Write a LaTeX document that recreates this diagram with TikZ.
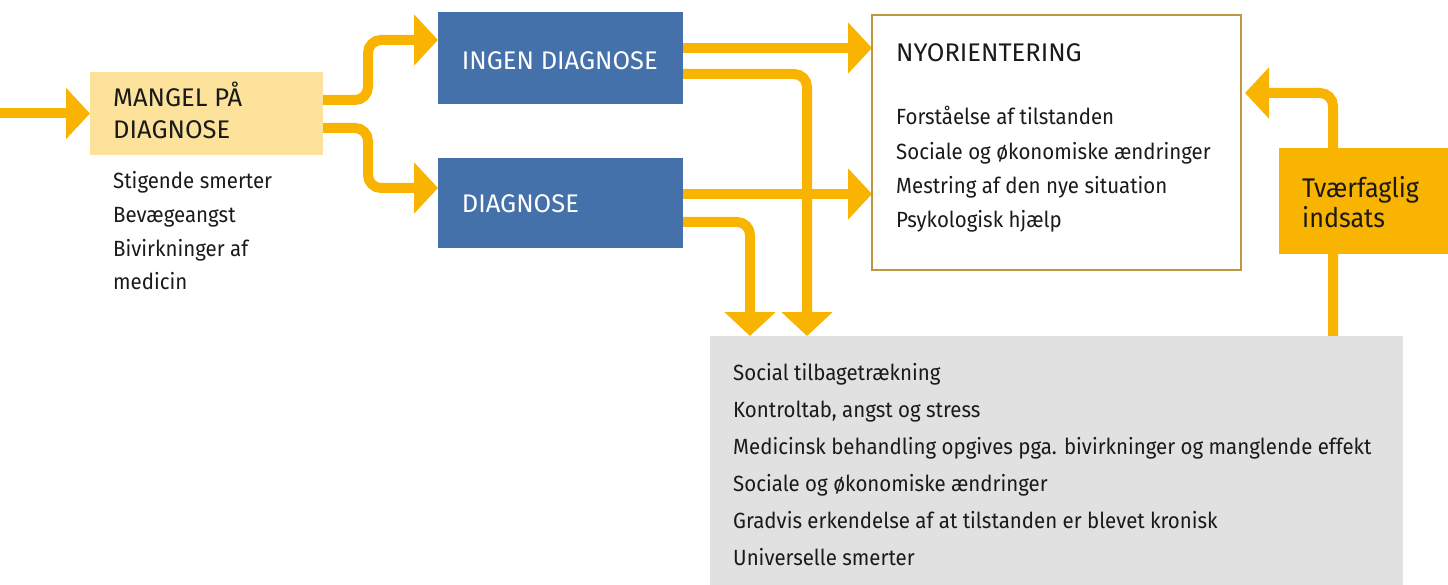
\documentclass[tikz,border=0pt]{standalone}
\usepackage{fontspec}
\setmainfont{Fira Sans}
\newfontfamily\bodyfont{Fira Sans}[FakeStretch=0.93]
\usetikzlibrary{arrows.meta,calc,backgrounds}
\definecolor{arrowY}{HTML}{F8B400}
\definecolor{boxBlue}{HTML}{4471AA}
\definecolor{ltYellow}{HTML}{FCE29A}
\definecolor{boxGray}{HTML}{E1E1E1}
\definecolor{frameGold}{HTML}{BE9644}
\definecolor{txt}{HTML}{1A1A1A}
\begin{document}
\begin{tikzpicture}[x=1pt,y=-1pt,
  flow/.style={draw=arrowY,line width=10pt,rounded corners=13pt,-{Triangle[width=50pt,length=24pt]}},
  panel/.style={anchor=north west,inner sep=0pt,outer sep=0pt,draw=none},
  head/.style={anchor=base west,inner sep=0pt,font=\fontsize{25.5}{30}\selectfont,text=txt},
  body/.style={anchor=base west,inner sep=0pt,font=\bodyfont\fontsize{22}{26}\selectfont,text=txt},
  small/.style={anchor=base west,inner sep=0pt,font=\bodyfont\fontsize{22}{26}\selectfont,text=txt},
  big/.style={anchor=base west,inner sep=0pt,font=\bodyfont\fontsize{27}{30}\selectfont,text=txt}]
\useasboundingbox (0,0) rectangle (1448,585);
% boxes
\node[panel,fill=ltYellow,minimum width=233pt,minimum height=83pt] (mangel) at (90,72) {};
\node[panel,fill=boxBlue,minimum width=245pt,minimum height=92pt] (ingen) at (438,12) {};
\node[panel,fill=boxBlue,minimum width=245pt,minimum height=90pt] (diag) at (438,158) {};
\node[panel,draw=frameGold,line width=1.2pt,minimum width=369pt,minimum height=255pt] (nyo) at (872,15) {};
\node[panel,fill=boxGray,minimum width=693pt,minimum height=249pt] (gray) at (710,336) {};
\node[panel,fill=arrowY,minimum width=169pt,minimum height=106pt] (tvaer) at (1279,148) {};
% texts
\node[head] (mangelA) at (113,106.7) {MANGEL PÅ};
\node[head] (mangelB) at (113,138.3) {DIAGNOSE};
\node[head,text=white] (ingenT) at (461.7,69.3) {INGEN DIAGNOSE};
\node[head,text=white] (diagT) at (461.7,212.7) {DIAGNOSE};
\node[head] (nyoT) at (896,61.7) {NYORIENTERING};
\node[body] (m1) at (113,189) {Stigende smerter};
\node[body] (m2) at (113,223) {Bevægeangst};
\node[body] (m3) at (113,257) {Bivirkninger af};
\node[body] (m4) at (113,290) {medicin};
\node[body] (n1) at (896,125) {Forståelse af tilstanden};
\node[body] (n2) at (896,159.3) {Sociale og økonomiske ændringer};
\node[body] (n3) at (896,193.3) {Mestring af den nye situation};
\node[body] (n4) at (896,227.3) {Psykologisk hjælp};
\node[big] (t1) at (1302,197.7) {Tværfaglig};
\node[big] (t2) at (1302,227.7) {indsats};
\node[small] (g1) at (733,380.7) {Social tilbagetrækning};
\node[small] (g2) at (733,417.3) {Kontroltab, angst og stress};
\node[small] (g3) at (733,454) {Medicinsk behandling opgives pga. bivirkninger og manglende effekt};
\node[small] (g4) at (733,491) {Sociale og økonomiske ændringer};
\node[small] (g5) at (733,528) {Gradvis erkendelse af at tilstanden er blevet kronisk};
\node[small] (g6) at (733,565) {Universelle smerter};
% connectors
\begin{scope}[on background layer]
\coordinate (start) at (0,113.5);
\draw[flow] (start) -- (mangel.west);
\draw[flow] ($(mangel.north east)+(0,28)$) -- ++(45,0) |- ($(ingen.north west)+(0,28)$);
\draw[flow] ($(mangel.north east)+(0,56)$) -- ++(45,0) |- ($(diag.north west)+(0,30)$);
\coordinate (i1) at ($(ingen.north east)+(0,36)$);
\draw[flow] (i1) -- (i1 -| nyo.west);
\coordinate (d1) at ($(diag.north east)+(0,36)$);
\draw[flow] (d1) -- (d1 -| nyo.west);
\draw[flow] ($(ingen.north east)+(0,62)$) -| ($(gray.north west)+(97,0)$);
\draw[flow] ($(diag.north east)+(0,64)$) -| ($(gray.north west)+(40,0)$);
\draw[flow] ($(gray.north west)+(623,0)$) |- ($(nyo.north east)+(4,78)$);
\end{scope}
\end{tikzpicture}
\end{document}
